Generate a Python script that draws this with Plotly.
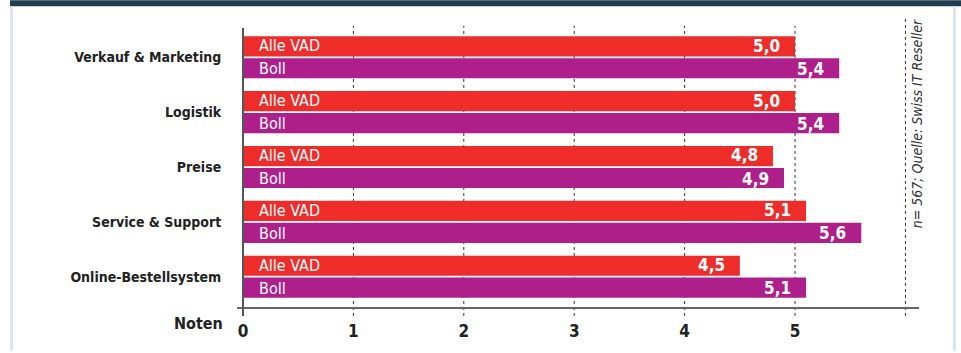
import plotly.graph_objects as go

categories = ["Verkauf & Marketing", "Logistik", "Preise", "Service & Support", "Online-Bestellsystem"]
series_names = ["Alle VAD", "Boll"]
alle_vad = [5.0, 5.0, 4.8, 5.1, 4.5]
boll = [5.4, 5.4, 4.9, 5.6, 5.1]
tick_vals = [0, 1, 2, 3, 4, 5]
grid_vals = [1, 2, 3, 4, 5, 6]
axis_title = "Noten"
source_note = "n= 567; Quelle: Swiss IT Reseller"

RED = "#ee2d2a"
PURPLE = "#ae1f8c"
FONT = "Liberation Sans Narrow, DejaVu Sans Condensed, Arial Narrow, sans-serif"

def fmt(v):
    return f"{v:.1f}".replace(".", ",")

fig = go.Figure()
for name, vals, col in [(series_names[0], alle_vad, RED), (series_names[1], boll, PURPLE)]:
    fig.add_trace(go.Bar(
        y=categories, x=vals, orientation="h", name=name,
        marker=dict(color=col, line=dict(width=0)),
        hoverinfo="skip",
    ))

W, H = 961, 353
L, R, T, B = 243, 39, 28, 43
XMAX = 6.15

annotations = []
for i, cat in enumerate(categories):
    for name, vals, ys in [(series_names[0], alle_vad, 11.6), (series_names[1], boll, -11.6)]:
        annotations.append(dict(x=0, y=cat, xref="x", yref="y", text=name, showarrow=False,
                                xanchor="left", yanchor="middle", xshift=14, yshift=ys,
                                font=dict(family=FONT, size=16, color="white")))
        annotations.append(dict(x=vals[i], y=cat, xref="x", yref="y", text="<b>" + fmt(vals[i]) + "</b>",
                                showarrow=False, xanchor="right", yanchor="middle", xshift=-13, yshift=ys,
                                font=dict(family=FONT, size=17, color="white")))

annotations.append(dict(x=(225 - L) / (W - L - R), y=(H - 326 - B) / (H - T - B) , xref="paper", yref="paper",
                        text="<b>" + axis_title + "</b>", showarrow=False, xanchor="right", yanchor="middle",
                        font=dict(family=FONT, size=16, color="#222")))
annotations.append(dict(x=(917 - L) / (W - L - R), y=(H - 125 - B) / (H - T - B), xref="paper", yref="paper",
                        text="<i>" + source_note + "</i>", showarrow=False, textangle=-90,
                        xanchor="center", yanchor="middle",
                        font=dict(family=FONT, size=14, color="#333")))

def px_x(p):
    return (p - L) / (W - L - R)

def px_y(p):
    return (H - B - p) / (H - T - B)

shapes = [
    dict(type="rect", xref="paper", yref="paper", x0=px_x(10), x1=px_x(961), y0=px_y(6), y1=px_y(0),
         fillcolor="#1f3d4e", line=dict(width=0), layer="above"),
    dict(type="rect", xref="paper", yref="paper", x0=px_x(10), x1=px_x(13), y0=px_y(353), y1=px_y(6),
         fillcolor="#dbe5ee", line=dict(width=0), layer="above"),
    dict(type="rect", xref="paper", yref="paper", x0=px_x(953), x1=px_x(956), y0=px_y(353), y1=px_y(6),
         fillcolor="#dbe5ee", line=dict(width=0), layer="above"),
]
for g in grid_vals:
    shapes.append(dict(type="line", xref="x", yref="paper", x0=g, x1=g, y0=px_y(318), y1=px_y(19 if g == 6 else 26),
                       line=dict(color="#333", width=1, dash="dot"), layer="below"))
shapes.append(dict(type="line", xref="paper", yref="paper", x0=px_x(237), x1=px_x(919), y0=px_y(310), y1=px_y(310),
                   line=dict(color="#666", width=2), layer="above"))
shapes.append(dict(type="line", xref="paper", yref="paper", x0=px_x(243), x1=px_x(243), y0=px_y(318), y1=px_y(28),
                   line=dict(color="#555", width=2), layer="above"))

fig.update_layout(
    width=W, height=H,
    margin=dict(l=L, r=R, t=T, b=B, pad=0),
    paper_bgcolor="white", plot_bgcolor="white",
    barmode="group", bargap=0.2, bargroupgap=0.08,
    showlegend=False,
    font=dict(family=FONT, color="#222"),
    xaxis=dict(range=[0, XMAX], tickvals=tick_vals, ticktext=["<b>%d</b>" % v for v in tick_vals],
               showgrid=False, zeroline=False, showline=False,
               ticks="outside", ticklen=8, tickcolor="rgba(0,0,0,0)",
               tickfont=dict(family=FONT, size=17, color="#222")),
    yaxis=dict(categoryorder="array", categoryarray=categories, range=[4.57, -0.534],
               showgrid=False, zeroline=False, showline=False,
               tickvals=categories, ticktext=["<b>" + c + "</b>" for c in categories],
               ticks="outside", ticklen=18, tickcolor="rgba(0,0,0,0)",
               tickfont=dict(family=FONT, size=14, color="#222")),
    annotations=annotations, shapes=shapes,
)

fig.write_html("out.html")
